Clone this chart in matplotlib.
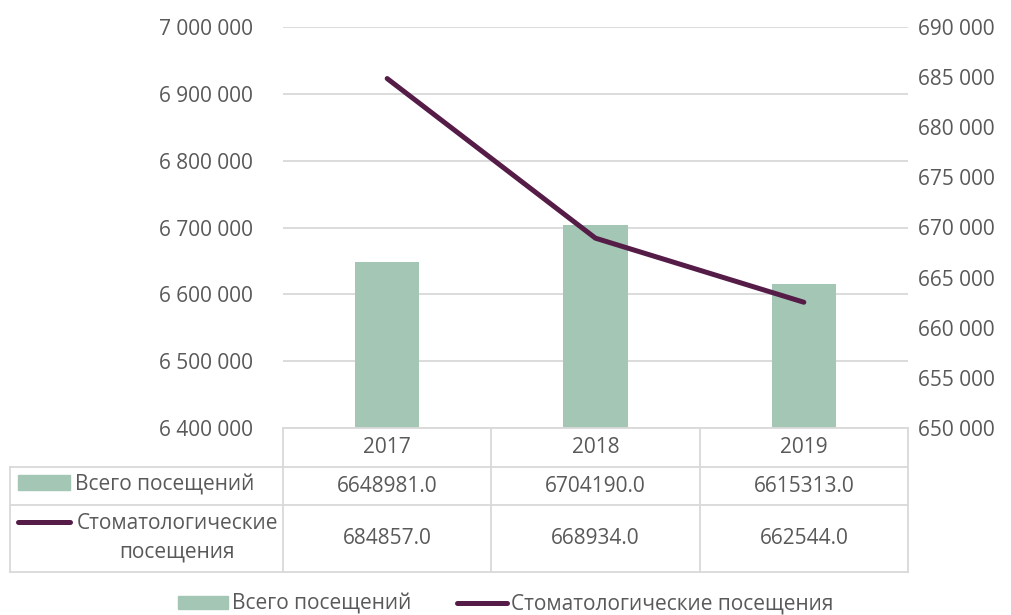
import numpy as np
import matplotlib.pyplot as plt
from matplotlib.lines import Line2D
from matplotlib.patches import Rectangle

# data
years = ["2017", "2018", "2019"]
total_visits = [6648981.0, 6704190.0, 6615313.0]
dental_visits = [684857.0, 668934.0, 662544.0]
name_total = "Всего посещений"
name_dental = "Стоматологические посещения"
name_dental_table = "Стоматологические\nпосещения"

BAR_C = "#a3c6b5"
LINE_C = "#561c48"
TXT_C = "#595959"
GRID_C = "#d9d9d9"

plt.rcParams['font.family'] = ['Open Sans', 'DejaVu Sans']
FS = 15

W, H = 1011, 615
fig = plt.figure(figsize=(W / 100, H / 100), dpi=100)

def fx(px):
    return px / W

def fy(py):
    return 1 - py / H

# plot area in pixels
L, R, T, B = 283, 908, 27, 428
ax = fig.add_axes([fx(L), fy(B), fx(R) - fx(L), fy(T) - fy(B)])
x = np.arange(len(years))
ax.bar(x, total_visits, width=0.31, color=BAR_C, zorder=2)
ax.set_xlim(-0.5, len(years) - 0.5)
ax.set_ylim(6400000, 7000000)
ax.set_yticks(np.arange(6400000, 7000001, 100000))
ax.set_yticklabels([f"{v:,.0f}".replace(",", " ") for v in ax.get_yticks()])
ax.yaxis.grid(True, color=GRID_C, lw=1.3, zorder=0)
ax.set_axisbelow(True)
ax.set_xticks([])
for s in ax.spines.values():
    s.set_visible(False)
ax.tick_params(axis='y', length=0, pad=21.5, labelsize=FS, labelcolor=TXT_C)

ax2 = ax.twinx()
ax2.plot(x, dental_visits, color=LINE_C, lw=3.6, solid_capstyle='round', zorder=3)
ax2.set_ylim(650000, 690000)
ax2.set_yticks(np.arange(650000, 690001, 5000))
ax2.set_yticklabels([f"{v:,.0f}".replace(",", " ") for v in ax2.get_yticks()])
for s in ax2.spines.values():
    s.set_visible(False)
ax2.tick_params(axis='y', length=0, pad=7, labelsize=FS, labelcolor=TXT_C)

# data table below the plot
col_x = [L + (R - L) * i / 3 for i in range(4)]
rows_y = [428, 467, 505, 572]
tab_left = 10

def hline(x0, x1, y):
    fig.add_artist(Line2D([fx(x0), fx(x1)], [fy(y), fy(y)], color=GRID_C, lw=1.3))

def vline(xp, y0, y1):
    fig.add_artist(Line2D([fx(xp), fx(xp)], [fy(y0), fy(y1)], color=GRID_C, lw=1.3))

hline(L, R, rows_y[0])
for y in rows_y[1:]:
    hline(tab_left, R, y)
vline(tab_left, rows_y[1], rows_y[3])
for xp in col_x:
    vline(xp, rows_y[0], rows_y[3])

for i, yr in enumerate(years):
    cx = (col_x[i] + col_x[i + 1]) / 2
    fig.text(fx(cx), fy((rows_y[0] + rows_y[1]) / 2), yr, ha='center', va='center',
             fontsize=FS, color=TXT_C)
    fig.text(fx(cx), fy((rows_y[1] + rows_y[2]) / 2), f"{total_visits[i]:.1f}",
             ha='center', va='center', fontsize=FS, color=TXT_C)
    fig.text(fx(cx), fy((rows_y[2] + rows_y[3]) / 2), f"{dental_visits[i]:.1f}",
             ha='center', va='center', fontsize=FS, color=TXT_C)

# row headers with legend keys
fig.add_artist(Rectangle((fx(18), fy(490)), fx(70) - fx(18), fy(475) - fy(490),
                         color=BAR_C))
fig.text(fx(75), fy(485), name_total, ha='left', va='center', fontsize=FS, color=TXT_C)
fig.add_artist(Line2D([fx(18), fx(70)], [fy(522), fy(522)], color=LINE_C, lw=3.6,
                      solid_capstyle='round'))
fig.text(fx(177), fy(538), name_dental_table, ha='center', va='center', fontsize=FS,
         color=TXT_C, linespacing=1.5)

# legend at the bottom
handles = [Rectangle((0, 0), 1, 1, color=BAR_C),
           Line2D([], [], color=LINE_C, lw=3.6, solid_capstyle='round')]
fig.legend(handles, [name_total, name_dental], loc='center', ncol=2,
           bbox_to_anchor=(0.5, fy(604)), frameon=False, fontsize=FS,
           labelcolor=TXT_C, handlelength=2.4, handleheight=0.6,
           handletextpad=0.2, columnspacing=2.2, borderpad=0)

fig.savefig("out.png", dpi=100)
